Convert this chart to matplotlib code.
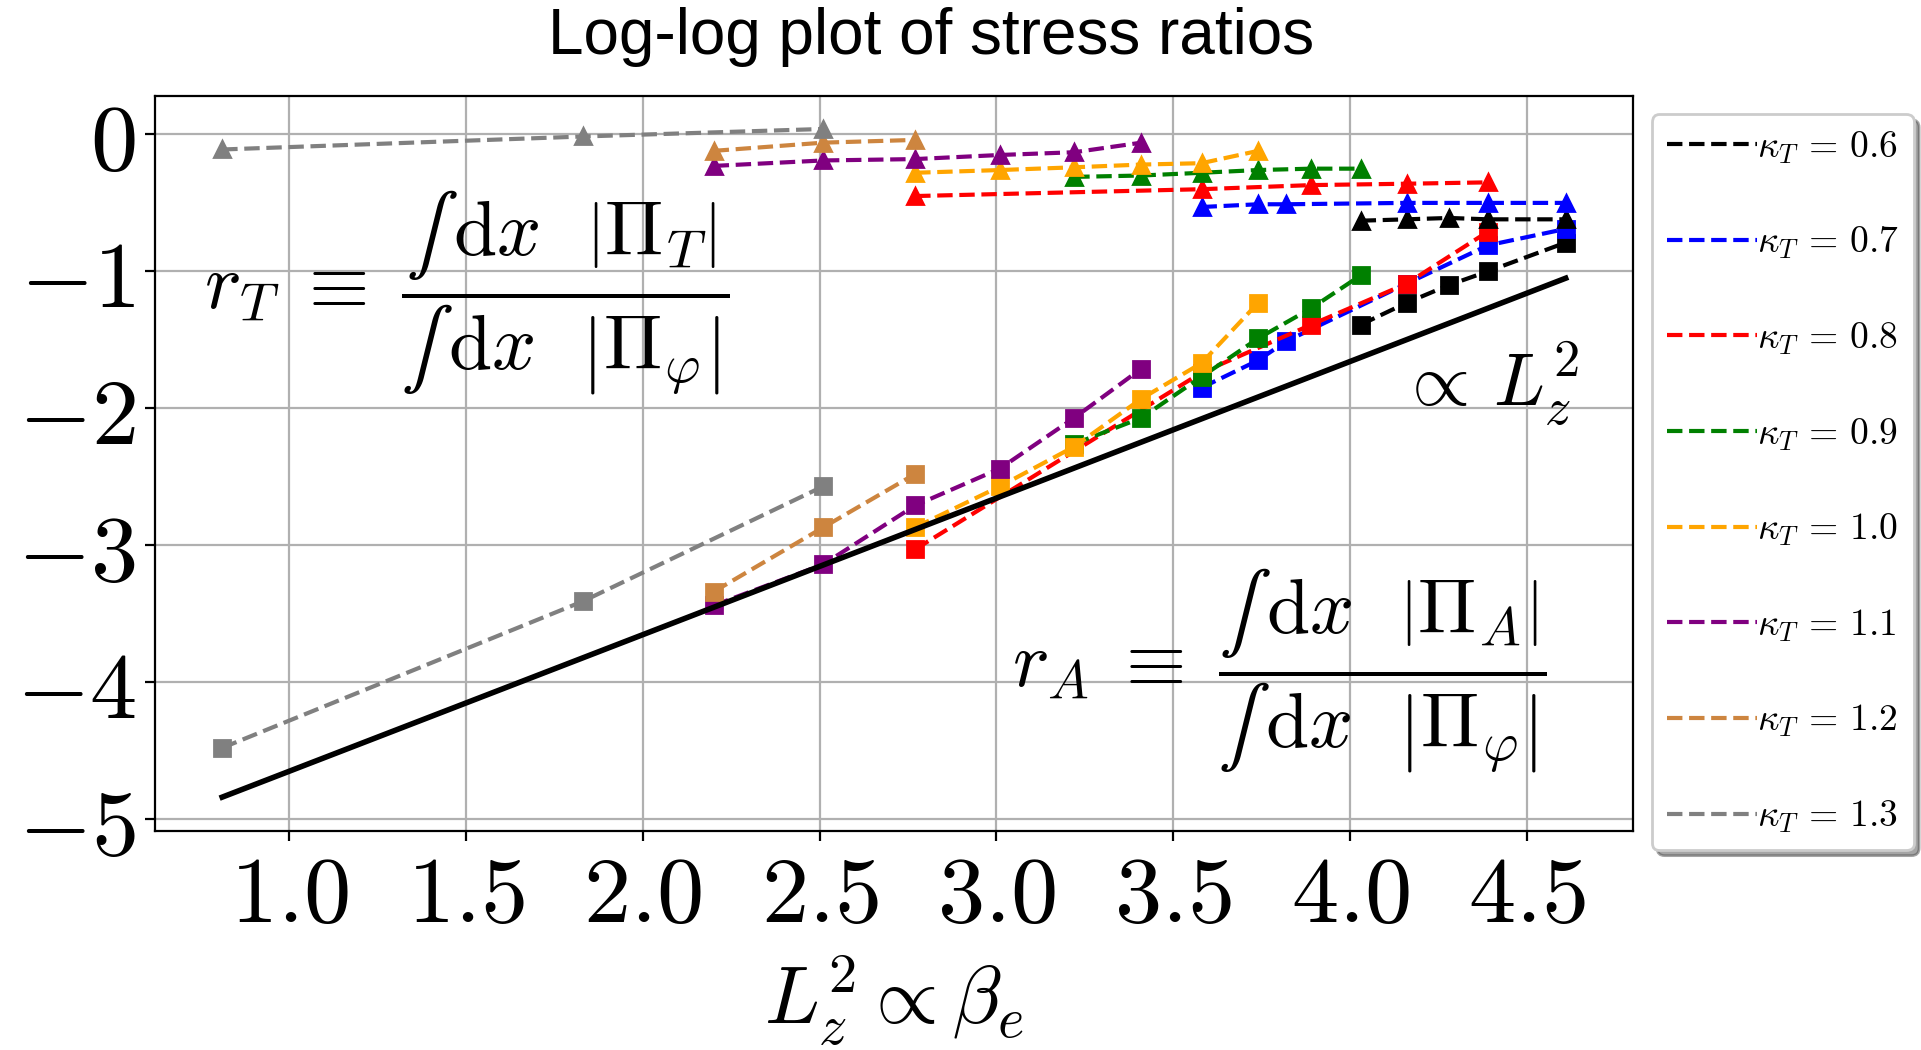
import matplotlib
matplotlib.use("Agg")
import matplotlib.pyplot as plt
from matplotlib.lines import Line2D
from matplotlib.ticker import FixedLocator, FuncFormatter

plt.rcParams["mathtext.fontset"] = "cm"

# x: log(L_z^2) for each run; r_T (triangles) and r_A (squares) are log ratios
kappas = ["0.6", "0.7", "0.8", "0.9", "1.0", "1.1", "1.2", "1.3"]
colors = ["black", "blue", "red", "green", "orange", "purple", "peru", "gray"]

x_06 = [4.03, 4.16, 4.28, 4.39, 4.61]
rT_06 = [-0.63, -0.62, -0.61, -0.62, -0.62]
rA_06 = [-1.39, -1.23, -1.10, -1.00, -0.79]

x_07 = [3.58, 3.74, 3.82, 4.16, 4.39, 4.61]
rT_07 = [-0.53, -0.51, -0.51, -0.50, -0.50, -0.50]
rA_07 = [-1.85, -1.65, -1.51, -1.09, -0.81, -0.69]

x_08 = [2.77, 3.58, 3.89, 4.16, 4.39]
rT_08 = [-0.45, -0.40, -0.37, -0.36, -0.35]
rA_08 = [-3.03, -1.74, -1.39, -1.09, -0.71]

x_09 = [3.22, 3.41, 3.58, 3.74, 3.89, 4.03]
rT_09 = [-0.31, -0.30, -0.28, -0.26, -0.25, -0.25]
rA_09 = [-2.26, -2.07, -1.77, -1.49, -1.27, -1.03]

x_10 = [2.77, 3.01, 3.22, 3.41, 3.58, 3.74]
rT_10 = [-0.28, -0.26, -0.24, -0.22, -0.21, -0.12]
rA_10 = [-2.87, -2.57, -2.28, -1.93, -1.67, -1.23]

x_11 = [2.20, 2.51, 2.77, 3.01, 3.22, 3.41]
rT_11 = [-0.23, -0.19, -0.18, -0.15, -0.13, -0.06]
rA_11 = [-3.44, -3.14, -2.71, -2.44, -2.07, -1.71]

x_12 = [2.20, 2.51, 2.77]
rT_12 = [-0.12, -0.06, -0.04]
rA_12 = [-3.34, -2.87, -2.48]

x_13 = [0.81, 1.83, 2.51]
rT_13 = [-0.11, -0.015, 0.04]
rA_13 = [-4.48, -3.41, -2.57]

# reference slope-one line
x_ref = [0.81, 4.61]
y_ref = [-4.84, -1.05]

xticks = [1.0, 1.5, 2.0, 2.5, 3.0, 3.5, 4.0, 4.5]
yticks = [-5, -4, -3, -2, -1, 0]

xs = [x_06, x_07, x_08, x_09, x_10, x_11, x_12, x_13]
rTs = [rT_06, rT_07, rT_08, rT_09, rT_10, rT_11, rT_12, rT_13]
rAs = [rA_06, rA_07, rA_08, rA_09, rA_10, rA_11, rA_12, rA_13]

fig = plt.figure(figsize=(19.21 / 2, 10.5 / 2), dpi=200)
ax = fig.add_axes([0.0807, 0.209, 0.7693, 0.700])

for x, ra, c in zip(xs, rAs, colors):
    ax.plot(x, ra, ls="--", marker="s", color=c)
for x, rt, c in zip(xs, rTs, colors):
    ax.plot(x, rt, ls="--", marker="^", color=c)
ax.plot(x_ref, y_ref, color="black", lw=2)

ax.grid(True)
ax.xaxis.set_major_locator(FixedLocator(xticks))
ax.yaxis.set_major_locator(FixedLocator(yticks))
ax.xaxis.set_major_formatter(FuncFormatter(lambda v, p: r"$%.1f$" % v))
ax.yaxis.set_major_formatter(FuncFormatter(lambda v, p: r"$%d$" % v))
ax.tick_params(labelsize=34)

ax.set_xlabel(r"$L_z^2 \propto \beta_e$", fontsize=29)


def ratio(sub):
    num = r"∫\,\mathrm{d}x\ \ \left|\Pi_%s\right|" % sub
    den = r"∫\,\mathrm{d}x\ \ \left|\Pi_\varphi\right|"
    return r"$r_%s\;\equiv\;\dfrac{%s}{%s}$" % (sub, num, den)


ax.text(1.50, -1.16, ratio("T"), fontsize=28, ha="center", va="center")
ax.text(3.80, -3.92, ratio("A"), fontsize=28, ha="center", va="center")
ax.text(4.39, -1.82, r"$\propto\,L_z^2$", fontsize=27, ha="center", va="center")

handles = [Line2D([], [], ls="--", color=c) for c in colors]
labels = [r"$\kappa_T\,=\,%s$" % k for k in kappas]
ax.legend(handles, labels, loc="upper left", bbox_to_anchor=(1.0, 1.0),
          fontsize=13.5, shadow=True, labelspacing=1.58, handletextpad=0.0,
          handlelength=2.4)

fig.text(0.4846, 0.965, "Log-log plot of stress ratios", fontsize=23,
         family="Liberation Sans", ha="center", va="center")

fig.savefig("out.png", dpi=200)
